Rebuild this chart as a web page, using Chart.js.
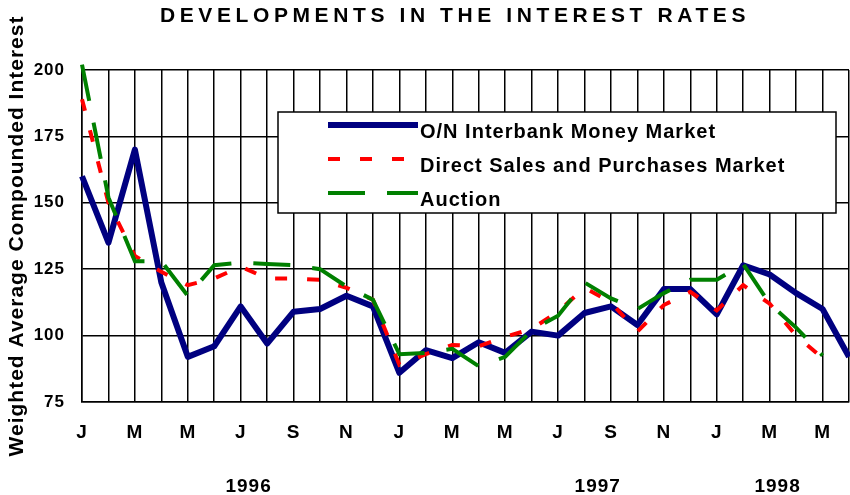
<!DOCTYPE html>
<html><head><meta charset="utf-8">
<script src="https://cdn.jsdelivr.net/npm/chart.js@4.4.0/dist/chart.umd.min.js"></script>
<style>
html,body{margin:0;padding:0;background:#fff;}
#wrap{position:relative;width:850px;height:495px;overflow:hidden;}
#title{position:absolute;left:0;top:3px;width:850px;padding-left:60px;box-sizing:border-box;text-align:center;
  font:bold 21px "Liberation Sans",Arial,sans-serif;letter-spacing:4.6px;color:#000;white-space:nowrap;}
canvas{position:absolute;left:0;top:0;}
</style></head><body>
<div id="wrap"><canvas id="c" width="850" height="495"></canvas><div id="title">DEVELOPMENTS IN THE INTEREST RATES</div></div>
<script>
const months = ['J','F','M','A','M','J','J','A','S','O','N','D',
                'J','F','M','A','M','J','J','A','S','O','N','D',
                'J','F','M','A','M','J'];
const years = ['1996','1997','1998'];
const interbank = [160,135,170,120,92,96,111,97,109,110,115,111,
                   86,94.5,91.5,97.5,93.5,101.5,100,108.5,111,104,117.5,117.5,
                   108,126.5,123,116,110,92];
const direct = [189,150,130,124,119,121.5,126,121.5,121.5,121,118,113.5,
                89,93,96.5,96,99.5,102.5,109,118,112.5,101.5,111.5,116.5,
                109.5,119,112,100,91.5,null];
const auction = [202,152,128,128,115,126.5,127.5,127,126.5,125,118.5,113.5,
                 93,93.5,95,88.5,92,102,107.5,120,114,110,116,121,
                 121,127,112,103,92.5,null];
const seriesNames = ['O/N Interbank Money Market','Direct Sales and Purchases Market','Auction'];

const FONT = '"Liberation Sans", Arial, sans-serif';

const spacing = {
  id:'spacing',
  beforeUpdate(chart){ chart.ctx.letterSpacing='1px'; },
  beforeDraw(chart){ chart.ctx.letterSpacing='1px'; }
};

const legendBox = {
  id:'legendBox',
  afterDraw(chart){
    const ctx = chart.ctx;
    ctx.save();
    const bx=278, by=112, bw=558, bh=101;
    ctx.fillStyle='#fff';
    ctx.fillRect(bx,by,bw,bh);
    ctx.strokeStyle='#000';
    ctx.lineWidth=1.5;
    ctx.strokeRect(bx,by,bw,bh);
    const rows=[125,159,193];
    chart.data.datasets.forEach((ds,i)=>{
      const y=rows[i];
      ctx.beginPath();
      ctx.setLineDash(ds.borderDash||[]);
      ctx.lineDashOffset=0;
      ctx.strokeStyle=ds.borderColor;
      ctx.lineWidth=ds.borderWidth;
      ctx.lineCap='butt';
      ctx.moveTo(328,y);
      ctx.lineTo(418,y);
      ctx.stroke();
      ctx.setLineDash([]);
      ctx.fillStyle='#000';
      ctx.font='bold 20px '+FONT;
      ctx.letterSpacing='1px';
      ctx.textAlign='left';
      ctx.textBaseline='alphabetic';
      ctx.fillText(ds.label,420,y+13);
    });
    ctx.restore();
  }
};

new Chart(document.getElementById('c'),{
  type:'line',
  data:{
    labels:months,
    datasets:[
      {label:seriesNames[0],data:interbank,borderColor:'#000080',backgroundColor:'#000080',borderWidth:6,
       pointRadius:0,tension:0,clip:false,order:3,borderJoinStyle:'round'},
      {label:seriesNames[1],data:direct,borderColor:'#ff0000',backgroundColor:'#ff0000',borderWidth:4,
       borderDash:[12,20],pointRadius:0,tension:0,clip:false,order:2,spanGaps:false},
      {label:seriesNames[2],data:auction,borderColor:'#008000',backgroundColor:'#008000',borderWidth:4,
       borderDash:[37,22],pointRadius:0,tension:0,clip:false,order:1,spanGaps:false}
    ]
  },
  options:{
    responsive:false,
    animation:false,
    events:[],
    layout:{padding:{top:70,right:1,left:0,bottom:0}},
    plugins:{legend:{display:false},tooltip:{enabled:false},title:{display:false}},
    scales:{
      x:{
        type:'category',offset:false,
        grid:{color:'#000',lineWidth:1.5,drawTicks:false,offset:false},
        border:{color:'#000',width:1.5},
        ticks:{autoSkip:false,maxRotation:0,minRotation:0,padding:19,color:'#000',
               font:{family:FONT,size:19,weight:'bold'},
               callback:(v,i)=> i%2===0 ? months[i] : ''},
        afterFit:s=>{s.height=50; s.paddingLeft=0; s.paddingRight=0;}
      },
      x2:{
        type:'linear',position:'bottom',min:0,max:months.length-1,
        grid:{display:false,drawTicks:false},border:{display:false},
        ticks:{padding:23,color:'#000',font:{family:FONT,size:19,weight:'bold'},
               callback:(v)=>{const p=[6.3,19.5,26.3]; const k=p.indexOf(v); return k>=0?years[k]:'';}},
        afterBuildTicks:s=>{s.ticks=[6.3,19.5,26.3].map(v=>({value:v}));},
        afterFit:s=>{s.height=43; s.paddingLeft=0; s.paddingRight=0;}
      },
      y:{
        min:75,max:200,
        ticks:{stepSize:25,padding:17,color:'#000',font:{family:FONT,size:17,weight:'bold'}},
        grid:{color:'#000',lineWidth:1.5,drawTicks:false},
        border:{color:'#000',width:1.5},
        title:{display:true,text:'Weighted Average Compounded Interest',color:'#000',
               font:{family:FONT,size:21,weight:'bold'},padding:{top:5,bottom:0}},
        afterFit:s=>{s.width=82;}
      }
    }
  },
  plugins:[spacing,legendBox]
});
</script>
</body></html>
